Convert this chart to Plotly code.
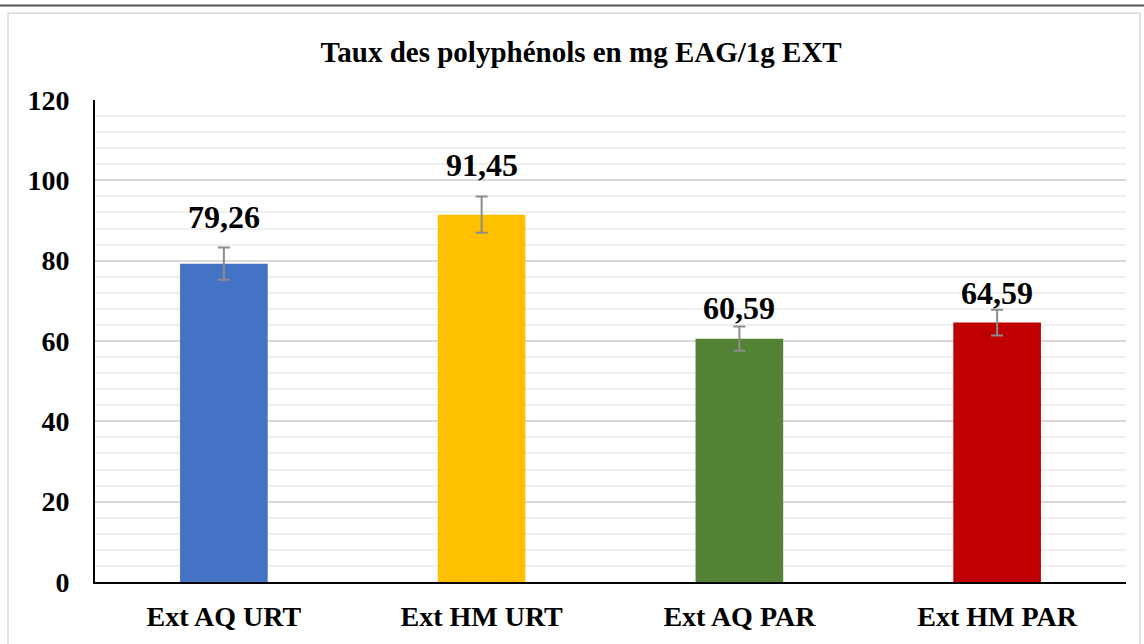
import plotly.graph_objects as go

categories = ["Ext AQ URT", "Ext HM URT", "Ext AQ PAR", "Ext HM PAR"]
values = [79.26, 91.45, 60.59, 64.59]
errors = [4.0, 4.5, 3.0, 3.2]
colors = ["#4472C4", "#FFC000", "#548235", "#C00000"]
title_text = "Taux des polyphénols en mg EAG/1g EXT"
label_offsets = [27, 30, 11, 10]  # pixel offsets of data labels above bars

FONT = "Liberation Serif"

fig = go.Figure()
fig.add_trace(go.Bar(
    x=categories, y=values,
    marker=dict(color=colors, line=dict(width=0)),
    width=0.34,
    error_y=dict(type="data", array=errors, visible=True,
                 color="#8C8C8C", thickness=2, width=6),
    hoverinfo="skip",
))

for c, v, off in zip(categories, values, label_offsets):
    fig.add_annotation(x=c, y=v, text=f"<b>{v:.2f}</b>".replace(".", ","),
                       showarrow=False, yanchor="bottom", yshift=off,
                       font=dict(family=FONT, size=32, color="black"))

fig.update_layout(
    width=1144, height=644,
    paper_bgcolor="white", plot_bgcolor="white",
    margin=dict(l=95, r=18, t=100, b=60),
    showlegend=False,
    title=dict(text=f"<b>{title_text}</b>", xref="container", x=0.508,
               xanchor="center", yref="container", y=0.92, yanchor="middle",
               font=dict(family=FONT, size=29, color="black")),
    xaxis=dict(showline=True, linecolor="black", linewidth=2,
               tickfont=dict(family=FONT, size=28, color="black"),
               ticks="", showgrid=False, tickprefix="<b>", ticksuffix="</b>",
               ticklabelstandoff=8),
    yaxis=dict(range=[0, 120], tick0=0, dtick=20, showline=True,
               linecolor="black", linewidth=2,
               showgrid=True, gridcolor="#D9D9D9", gridwidth=1.5,
               minor=dict(dtick=4, showgrid=True, gridcolor="#F0F0F0", gridwidth=1.5),
               tickfont=dict(family=FONT, size=28, color="black"),
               tickprefix="<b>", ticksuffix="</b>",
               ticks="", zeroline=False, ticklabelstandoff=18),
    shapes=[
        dict(type="rect", xref="paper", yref="paper",
             x0=-87/1031, x1=1045/1031, y0=-70/484, y1=(484+87)/484,
             line=dict(color="#D9D9D9", width=1.5), fillcolor="rgba(0,0,0,0)", layer="below"),
        dict(type="line", xref="paper", yref="paper",
             x0=-95/1031, x1=1049/1031, y0=(484+95)/484, y1=(484+95)/484,
             line=dict(color="#555555", width=2)),
    ],
)

fig.write_html("out.html", config={"displayModeBar": False},
               post_script="document.body.style.margin='0';document.body.style.overflow='hidden';")
